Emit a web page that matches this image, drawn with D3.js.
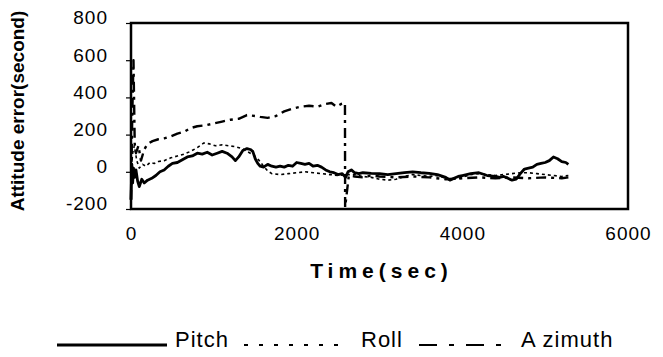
<!DOCTYPE html>
<html>
<head>
  <meta charset="utf-8">
  <title>Attitude error</title>
  <script src="https://d3js.org/d3.v7.min.js"></script>
  <style>
    body { margin: 0; background: #fff; }
    text { font-family: "Liberation Sans", Arial, sans-serif; fill: #000; }
  </style>
</head>
<body>
  <div id="chart"></div>
  <script>
    // data
    const xTicks = [0, 2000, 4000, 6000];
    const yTicks = [-200, 0, 200, 400, 600, 800];

    const pitchTime = [0,10,20,30,45,60,80,100,130,160,200,250,300,350,400,450,500,560,620,680,740,800,860,920,980,1040,1100,1160,1220,1260,1300,1350,1400,1440,1470,1500,1530,1560,1600,1650,1700,1750,1800,1850,1900,1950,2000,2050,2100,2150,2200,2250,2300,2350,2400,2450,2500,2550,2590,2620,2660,2700,2750,2800,2900,3000,3100,3200,3300,3400,3500,3600,3700,3800,3850,3900,3950,4000,4050,4100,4200,4300,4400,4450,4500,4550,4600,4650,4700,4750,4800,4850,4900,4950,5000,5050,5100,5150,5200,5250,5280];
    const pitchValue = [-150,40,-60,20,-30,10,-50,-80,-40,-60,-45,-35,-20,0,10,30,45,50,65,80,85,100,95,105,90,100,110,100,80,60,80,115,125,120,110,70,45,30,25,40,30,25,30,25,35,30,50,45,40,45,30,35,25,10,0,-5,-15,-10,-30,0,10,-5,-10,-5,-8,-10,-15,-10,-5,0,-5,-8,-15,-30,-45,-35,-25,-20,-15,-10,-5,-20,-25,-30,-25,-35,-45,-40,-10,15,20,25,40,45,50,60,80,70,55,50,40];

    const rollTime = [0,20,40,70,100,140,180,230,280,330,400,480,560,640,720,800,880,950,1020,1100,1180,1260,1340,1420,1480,1540,1600,1650,1700,1800,1900,2000,2100,2200,2300,2400,2500,2600,2700,2800,2900,3000,3100,3200,3300,3400,3500,3600,3700,3800,3900,4000,4100,4200,4300,4400,4500,4600,4700,4800,4900,5000,5100,5200,5280];
    const rollValue = [0,100,140,60,20,40,30,50,45,55,60,75,85,95,110,130,155,150,140,145,140,135,125,105,90,65,30,5,-10,-15,-10,-5,0,-5,-10,-15,-20,-15,-15,-25,-30,-40,-45,-40,-25,-15,-20,-25,-20,-35,-40,-30,-15,-10,-15,-20,-15,-10,-5,-5,-10,-15,-20,-25,-20];

    const azimuthTime = [0,15,30,45,60,90,120,160,200,260,330,400,480,560,640,720,800,900,1000,1100,1200,1300,1400,1500,1560,1650,1750,1850,1950,2050,2150,2250,2350,2420,2480,2540,2583,2585,2630,2700,2800,2900,3000,3200,3400,3600,3800,4000,4200,4400,4600,4800,5000,5200,5280];
    const azimuthValue = [-150,300,600,150,100,140,60,120,150,165,175,180,190,205,215,235,245,250,260,270,280,285,305,300,295,290,300,325,340,350,355,350,365,370,350,365,370,-190,-20,-25,-30,-20,-25,-30,-25,-30,-40,-35,-30,-35,-30,-35,-30,-35,-30];

    const series = [
      { name: "Pitch", time: pitchTime, value: pitchValue, width: 2.8, dash: null },
      { name: "Roll", time: rollTime, value: rollValue, width: 1.6, dash: "3,3" },
      { name: "A zimuth", time: azimuthTime, value: azimuthValue, width: 2.4, dash: "10,5,3,5" }
    ];

    const W = 663, H = 357;
    const margin = {top: 23, right: 35, bottom: 148, left: 131},
          width = W - margin.left - margin.right,
          height = H - margin.top - margin.bottom;

    const root = d3.select("#chart")
      .append("svg")
      .attr("width", W)
      .attr("height", H);

    root.append("rect").attr("width", W).attr("height", H).attr("fill", "#fff");

    const svg = root.append("g")
      .attr("transform", `translate(${margin.left},${margin.top})`);

    const x = d3.scaleLinear().domain([0, 6000]).range([0, width]);
    const y = d3.scaleLinear().domain([-200, 800]).range([height, 0]);

    // Y axis (plain hyphen for negatives, like the scan)
    const yAxis = svg.append("g")
      .call(d3.axisLeft(y).tickValues(yTicks).tickSize(5).tickPadding(18).tickFormat(d => String(d)));
    yAxis.select(".domain").remove();
    yAxis.selectAll("line").attr("stroke", "#000").attr("stroke-width", 1.2);
    yAxis.selectAll("text")
      .attr("font-size", 19)
      .attr("letter-spacing", 1)
      .attr("dy", "0.05em")
      .style("font-family", "'Liberation Sans', Arial, sans-serif");

    // X axis
    const xAxis = svg.append("g")
      .attr("transform", `translate(0,${height})`)
      .call(d3.axisBottom(x).tickValues(xTicks).tickSize(0).tickPadding(18).tickFormat(d => String(d)));
    xAxis.select(".domain").remove();
    xAxis.selectAll("text")
      .attr("font-size", 19)
      .attr("letter-spacing", 1)
      .style("font-family", "'Liberation Sans', Arial, sans-serif");

    // lines
    const line = d3.line()
      .x(d => x(d[0]))
      .y(d => y(d[1]));

    series.forEach(s => {
      svg.append("path")
        .datum(s.time.map((t, i) => [t, s.value[i]]))
        .attr("fill", "none")
        .attr("stroke", "#000")
        .attr("stroke-width", s.width)
        .attr("stroke-linejoin", "round")
        .attr("stroke-dasharray", s.dash)
        .attr("d", line);
    });

    // frame
    svg.append("rect")
      .attr("width", width)
      .attr("height", height)
      .attr("fill", "none")
      .attr("stroke", "#000")
      .attr("stroke-width", 2.5);

    // axis titles
    root.append("text")
      .attr("transform", `translate(24,${margin.top + height / 2 - 5}) rotate(-90)`)
      .attr("text-anchor", "middle")
      .attr("font-size", 19)
      .attr("font-weight", "bold")
      .text("Attitude error(second)");

    root.append("text")
      .attr("x", margin.left + width / 2 + 2)
      .attr("y", 278)
      .attr("text-anchor", "middle")
      .attr("font-size", 21)
      .attr("font-weight", "bold")
      .attr("letter-spacing", 5)
      .text("Time(sec)");

    // legend
    const legend = root.append("g");
    const legendItems = [
      { x0: 57, x1: 167, tx: 175 },
      { x0: 244, x1: 348, tx: 361 },
      { x0: 419, x1: 513, tx: 521 }
    ];
    series.forEach((s, i) => {
      const it = legendItems[i];
      legend.append("line")
        .attr("x1", it.x0).attr("x2", it.x1)
        .attr("y1", 345).attr("y2", 345)
        .attr("stroke", "#000")
        .attr("stroke-width", i === 0 ? 3 : 2)
        .attr("stroke-dasharray", i === 1 ? "4,11" : (i === 2 ? "18,12,5,12" : null));
      legend.append("text")
        .attr("x", it.tx)
        .attr("y", 347)
        .attr("font-size", 22)
        .attr("letter-spacing", 1)
        .text(s.name);
    });
  </script>
</body>
</html>
